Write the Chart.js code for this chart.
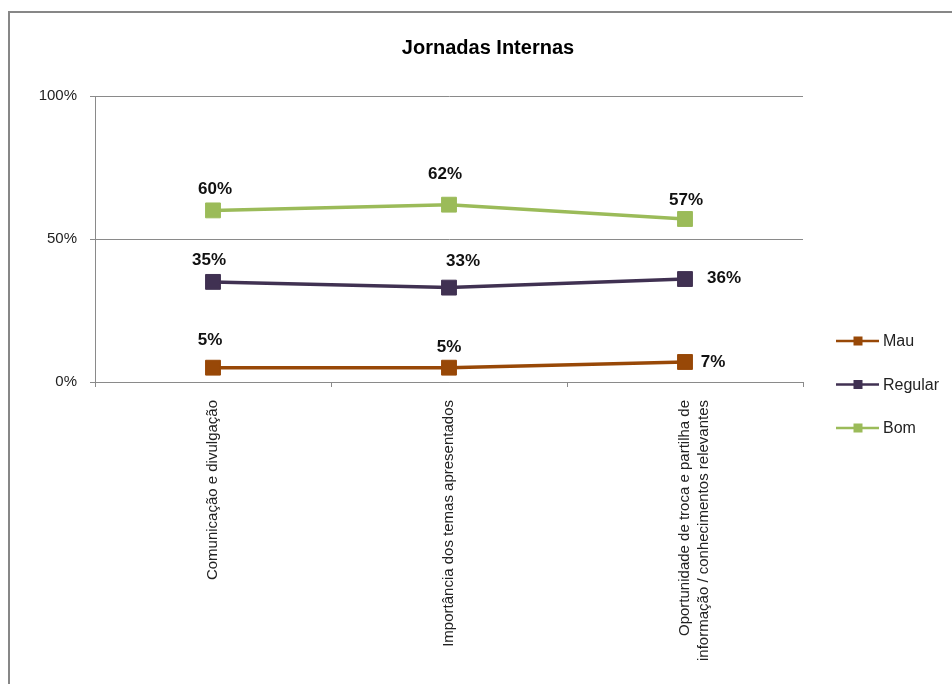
<!DOCTYPE html>
<html>
<head>
<meta charset="utf-8">
<title>Jornadas Internas</title>
<script src="https://cdn.jsdelivr.net/npm/chart.js@4"></script>
<style>
  html, body { margin: 0; padding: 0; background: #fff; overflow: hidden; }
  #wrap { width: 952px; height: 684px; }
</style>
</head>
<body>
<div id="wrap"><canvas id="line_chart"></canvas></div>
<script>
const categories = [
  "Comunicação e divulgação",
  "Importância dos temas apresentados",
  ["Oportunidade de troca e partilha de", "informação / conhecimentos relevantes"]
];
const seriesNames = ["Mau", "Regular", "Bom"];
const mau = [5, 5, 7];
const regular = [35, 33, 36];
const bom = [60, 62, 57];
const yTicks = [0, 50, 100];

const colors = ["#984807", "#403152", "#9BBB59"];
const gridColor = "#8a8a8a";

// where each value label sits relative to its marker (dx, dy)
const labelOffsets = [
  [[-3, -27], [0, -20], [28, 0]],
  [[-4, -22], [14, -26], [39, -1]],
  [[2, -21], [-4, -30], [1, -19]]
];

Chart.defaults.font.family = "'Liberation Sans', Arial, sans-serif";
Chart.defaults.color = "#222";

const framePlugin = {
  id: "frame",
  beforeDraw(chart) {
    const ctx = chart.ctx;
    ctx.save();
    ctx.fillStyle = "#fff";
    ctx.fillRect(0, 0, chart.width, chart.height);
    ctx.fillStyle = "#878787";
    ctx.fillRect(8, 11, chart.width, 2);
    ctx.fillRect(8, 11, 2, chart.height);
    ctx.restore();
  }
};

const valueLabels = {
  id: "valueLabels",
  afterDatasetsDraw(chart) {
    const ctx = chart.ctx;
    ctx.save();
    ctx.font = "bold 17px 'Liberation Sans', Arial, sans-serif";
    ctx.fillStyle = "#111";
    ctx.textAlign = "center";
    ctx.textBaseline = "middle";
    chart.data.datasets.forEach((ds, i) => {
      chart.getDatasetMeta(i).data.forEach((pt, j) => {
        const off = labelOffsets[i][j];
        ctx.fillText(ds.data[j] + "%", pt.x + off[0], pt.y + off[1]);
      });
    });
    ctx.restore();
  }
};

const sideLegend = {
  id: "sideLegend",
  afterDraw(chart) {
    const ctx = chart.ctx;
    ctx.save();
    ctx.font = "16px 'Liberation Sans', Arial, sans-serif";
    ctx.textBaseline = "middle";
    ctx.textAlign = "left";
    chart.data.datasets.forEach((ds, i) => {
      const y = 341 + i * 43.5;
      ctx.strokeStyle = ds.borderColor;
      ctx.lineWidth = 2.5;
      ctx.beginPath();
      ctx.moveTo(836, y);
      ctx.lineTo(879, y);
      ctx.stroke();
      ctx.fillStyle = ds.borderColor;
      ctx.fillRect(853.5, y - 4.5, 9, 9);
      ctx.fillStyle = "#222";
      ctx.fillText(ds.label, 883, y + 1);
    });
    ctx.restore();
  }
};

function makeSeries(name, data, color) {
  return {
    label: name,
    data: data,
    borderColor: color,
    backgroundColor: color,
    borderWidth: 3.5,
    pointStyle: "rect",
    pointRadius: 10.5,
    pointHoverRadius: 10.5,
    pointBorderWidth: 1,
    pointBackgroundColor: color,
    pointBorderColor: color,
    tension: 0,
    fill: false
  };
}

const ctx = document.getElementById("line_chart").getContext("2d");
new Chart(ctx, {
  type: "line",
  data: {
    labels: categories,
    datasets: [
      makeSeries(seriesNames[0], mau, colors[0]),
      makeSeries(seriesNames[1], regular, colors[1]),
      makeSeries(seriesNames[2], bom, colors[2])
    ]
  },
  options: {
    responsive: true,
    maintainAspectRatio: false,
    animation: false,
    layout: { padding: { left: 24, right: 0, top: 0, bottom: 0 } },
    scales: {
      x: {
        offset: true,
        afterFit: s => { s.height = 302; },
        grid: {
          offset: true,
          drawOnChartArea: false,
          drawTicks: true,
          tickLength: 5,
          color: gridColor
        },
        border: { color: gridColor },
        ticks: {
          autoSkip: false,
          minRotation: 90,
          maxRotation: 90,
          padding: 13,
          color: "#222",
          font: { size: 15, lineHeight: 1.25 }
        }
      },
      y: {
        min: 0,
        max: 100,
        afterFit: s => { s.width = 71; },
        afterBuildTicks: s => { s.ticks = yTicks.map(v => ({ value: v })); },
        grid: { color: gridColor, tickLength: 5, drawTicks: true },
        border: { color: gridColor },
        ticks: {
          padding: 13,
          color: "#222",
          font: { size: 15 },
          callback: v => v + "%"
        }
      },
      // empty right-hand axis that reserves room for the legend
      legendSpace: {
        axis: "y",
        position: "right",
        afterFit: s => { s.width = 149; },
        grid: { display: false },
        border: { display: false },
        ticks: { display: false }
      }
    },
    plugins: {
      legend: { display: false },
      tooltip: { enabled: false },
      title: {
        display: true,
        text: "Jornadas Internas",
        color: "#000",
        font: { size: 20, weight: "bold", lineHeight: 1.2 },
        padding: { top: 36, bottom: 36 }
      }
    }
  },
  plugins: [framePlugin, valueLabels, sideLegend]
});
</script>
</body>
</html>
